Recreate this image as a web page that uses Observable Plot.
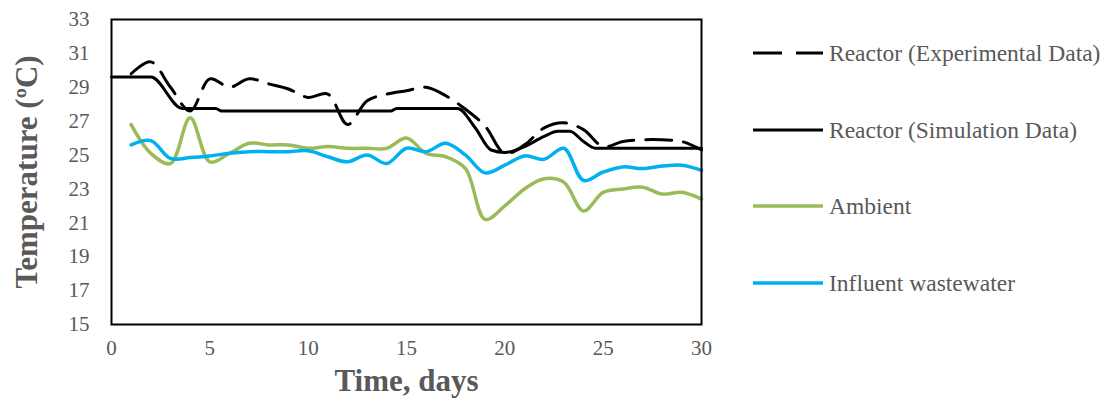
<!DOCTYPE html>
<html>
<head>
<meta charset="utf-8">
<script src="https://cdn.jsdelivr.net/npm/d3@7"></script>
<script src="https://cdn.jsdelivr.net/npm/@observablehq/plot@0.6"></script>
<style>
  html, body { margin: 0; padding: 0; background: #fff; }
  #wrap { position: relative; width: 1109px; height: 412px; }
  #legend { position: absolute; left: 0; top: 0; width: 1109px; height: 412px; pointer-events: none; }
  .item { position: absolute; left: 753px; display: flex; align-items: center; font-family: "Liberation Serif", "Times New Roman", serif; font-size: 23.5px; color: #595959; white-space: nowrap; }
  .item svg { margin-right: 6px; }
</style>
</head>
<body>
<div id="wrap"></div>
<script>
// Data
const days = [1,2,3,4,5,6,7,8,9,10,11,12,13,14,15,16,17,18,19,20,21,22,23,24,25,26,27,28,29,30];
const experimental = [29.8,30.5,29.0,27.6,29.5,29.0,29.5,29.2,28.9,28.4,28.6,26.8,28.2,28.6,28.8,29.0,28.5,27.7,26.7,25.1,25.6,26.6,26.9,26.5,25.5,25.8,25.9,25.9,25.8,25.3];
const simDays = [0,2,3.6,5.3,5.6,14.2,14.5,17.6,18.5,19.3,20,21,22,22.7,23.3,24,24.6,30];
const simTemps = [29.6,29.6,27.75,27.75,27.6,27.6,27.75,27.75,26.6,25.3,25.15,25.5,26.1,26.4,26.4,25.8,25.4,25.4];
const ambient = [26.8,25.1,24.5,27.2,24.6,25.1,25.7,25.6,25.6,25.4,25.5,25.4,25.4,25.4,26.0,25.1,24.9,24.2,21.2,22.0,23.0,23.6,23.4,21.7,22.8,23.0,23.1,22.7,22.8,22.4];
const influent = [25.6,25.85,24.8,24.85,24.95,25.1,25.2,25.2,25.2,25.25,24.9,24.6,25.0,24.5,25.4,25.2,25.7,25.0,23.95,24.4,24.95,24.75,25.4,23.5,24.0,24.3,24.2,24.35,24.4,24.1];
const xTicks = [0,5,10,15,20,25,30];
const yTicks = [15,17,19,21,23,25,27,29,31,33];
const seriesNames = ["Reactor (Experimental Data)","Reactor (Simulation Data)","Ambient","Influent wastewater"];
const seriesColors = ["#000000","#000000","#9BBB59","#00B0F0"];
const seriesDash = ["26,12", null, null, null];

const font = '"Liberation Serif", "Times New Roman", serif';
const grey = "#595959";

const chart = Plot.plot({
  width: 1109,
  height: 412,
  marginLeft: 111,
  marginRight: 408,
  marginTop: 19,
  marginBottom: 88,
  style: { fontFamily: font, fontSize: "21px", color: grey, background: "#fff", overflow: "visible" },
  x: { domain: [0, 30], ticks: xTicks, label: null },
  y: { domain: [15, 33], ticks: yTicks, label: null },
  marks: [
    Plot.axisX({ ticks: xTicks, tickSize: 0, tickPadding: 16, fontSize: 21, fill: grey, label: null }),
    Plot.axisY({ ticks: yTicks, tickSize: 0, tickPadding: 22, fontSize: 21, fill: grey, label: null }),
    Plot.line(ambient, { x: (d, i) => days[i], y: d => d, stroke: seriesColors[2], strokeWidth: 3.5, curve: "catmull-rom" }),
    Plot.line(influent, { x: (d, i) => days[i], y: d => d, stroke: seriesColors[3], strokeWidth: 3.5, curve: "catmull-rom" }),
    Plot.line(simTemps, { x: (d, i) => simDays[i], y: d => d, stroke: seriesColors[1], strokeWidth: 3, curve: "monotone-x" }),
    Plot.line(experimental, { x: (d, i) => days[i], y: d => d, stroke: seriesColors[0], strokeWidth: 3, strokeDasharray: seriesDash[0], curve: "catmull-rom" }),
    Plot.frame({ stroke: "black", strokeWidth: 2 }),
    Plot.text(["Time, days"], { text: d => d, frameAnchor: "bottom", dy: 66, fontSize: 31, fontWeight: "bold", fill: grey, fontFamily: font }),
    Plot.text(["Temperature (ºC)"], { text: d => d, frameAnchor: "left", textAnchor: "middle", lineAnchor: "middle", dx: -84, rotate: -90, fontSize: 31, fontWeight: "bold", fill: grey, fontFamily: font })
  ]
});

const wrap = document.getElementById("wrap");
wrap.appendChild(chart);

// Legend (HTML, right of the plot)
const legend = document.createElement("div");
legend.id = "legend";
const rowTops = [53, 130, 206, 283];
seriesNames.forEach((name, i) => {
  const item = document.createElement("div");
  item.className = "item";
  item.style.top = (rowTops[i] - 14) + "px";
  item.style.height = "28px";
  const sw = d3.create("svg").attr("width", 70).attr("height", 10);
  sw.append("line").attr("x1", 0).attr("x2", 70).attr("y1", 5).attr("y2", 5)
    .attr("stroke", seriesColors[i]).attr("stroke-width", i < 2 ? 3 : 3.5)
    .attr("stroke-dasharray", seriesDash[i] ? "29,14" : null);
  item.appendChild(sw.node());
  const span = document.createElement("span");
  span.textContent = name;
  item.appendChild(span);
  legend.appendChild(item);
});
wrap.appendChild(legend);
</script>
</body>
</html>
